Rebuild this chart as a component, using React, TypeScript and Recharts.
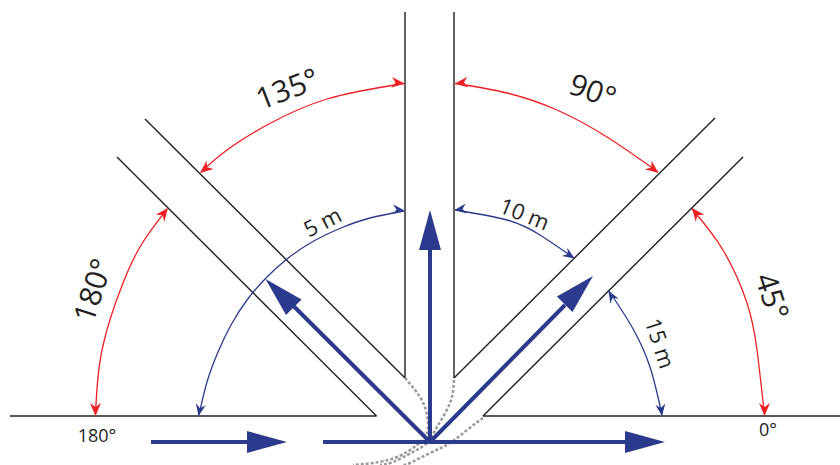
import React from "react";
import { ComposedChart, Line, Scatter, XAxis, YAxis } from "recharts";

type Pt = { x: number; y: number };
const P = (x: number, y: number): Pt => ({ x, y });

const INK = "#231f20";
const RED = "#ed2024";
const BLUE = "#2b3a8c";
const GRAY = "#9a9a9c";
const FONT = "'Open Sans', 'Noto Sans', sans-serif";

// Road edges
const roadEdges: Pt[][] = [
  [P(10, 416), P(376.5, 416)],
  [P(483, 416), P(840, 416)],
  [P(405, 12), P(405, 378)],
  [P(454, 12), P(454, 378)],
  [P(145, 119), P(405, 378)],
  [P(117, 157), P(376.5, 416)],
  [P(715, 118), P(454, 378)],
  [P(743, 157), P(483, 416)],
];

// Dotted turning paths
const turnPaths: Pt[][] = [
  [P(405, 378), P(420, 397), P(427, 415), P(427, 433), P(417, 445), P(397, 457), P(373, 463), P(353, 465)],
  [P(454, 380), P(450, 403), P(437, 427), P(428, 442), P(413, 452), P(393, 462), P(380, 465)],
  [P(483, 418), P(467, 430), P(450, 443), P(430, 453), P(410, 463), P(403, 465)],
];

// Thick flow arrows, shaft only
const flowShafts: Pt[][] = [
  [P(151, 442), P(247, 442)],
  [P(323, 442), P(625, 442)],
  [P(430, 442), P(430, 246)],
  [P(430, 442), P(294, 306.5)],
  [P(430, 442), P(565, 305)],
];
const flowHeads = [
  { x: 287, y: 442, angle: 0 },
  { x: 665, y: 442, angle: 0 },
  { x: 430, y: 210, angle: -90 },
  { x: 265.5, y: 279, angle: -135 },
  { x: 593, y: 276, angle: -45 },
];

// Angle arcs (red)
const redArcs: Pt[][] = [
  [P(404, 83.5), P(327, 99), P(267, 125), P(227, 150), P(201, 172)],
  [P(455, 83.5), P(507, 93), P(557, 110), P(607, 137), P(658, 172)],
  [P(95.5, 415), P(102, 350), P(123, 283), P(143, 242), P(167, 209)],
  [P(764.5, 415), P(757, 350), P(747, 303), P(723, 250), P(692, 209)],
];
const redHeads = [
  { x: 404.5, y: 83.5, angle: 5 },
  { x: 200, y: 173, angle: 141 },
  { x: 455, y: 83.5, angle: 174 },
  { x: 658.5, y: 173, angle: 38 },
  { x: 95.5, y: 416, angle: 90 },
  { x: 168, y: 208, angle: -52 },
  { x: 764.5, y: 416, angle: 90 },
  { x: 692, y: 208, angle: -128 },
];

// Distance arcs (blue)
const blueArcs: Pt[][] = [
  [P(404, 211), P(370, 218), P(341, 228), P(312, 242), P(287, 259), P(266, 278), P(247, 300), P(231, 325), P(218, 352), P(207, 382), P(199, 415)],
  [P(455, 210), P(507, 220), P(540, 235), P(574, 258)],
  [P(609, 291), P(632, 327), P(650, 367), P(662, 415)],
];
const blueHeads = [
  { x: 404.5, y: 210.5, angle: 6 },
  { x: 198.5, y: 416, angle: 101 },
  { x: 454.5, y: 210, angle: 173 },
  { x: 574.5, y: 258.5, angle: 34 },
  { x: 608.5, y: 291, angle: -121 },
  { x: 662, y: 416, angle: 82 },
];

const labelTexts = ["135°", "90°", "180°", "45°", "5 m", "10 m", "15 m", "180°", "0°"];
const labelX = [287, 593, 92, 773, 322, 525, 661, 97, 768];
const labelY = [88, 90, 290, 296, 221, 213, 343, 435, 429];
const labelAngle = [-21, 20, -72, 72, -27, 22, 72, 0, 0];
const labelSize = [30, 30, 30, 30, 22, 22, 22, 18, 18];
const labels = labelTexts.map((text, i) => ({
  x: labelX[i], y: labelY[i], text, angle: labelAngle[i], size: labelSize[i],
}));

const bigHead = (p: any) => (
  <path
    d="M0 0 L-40 -11 L-40 11 Z"
    transform={`translate(${p.cx} ${p.cy}) rotate(${p.payload.angle})`}
    fill={BLUE}
  />
);
const smallHead = (color: string, l: number, w: number) => (p: any) => (
  <path
    d={`M0 0 L${-l} ${-w} L${-l + 4} 0 L${-l} ${w} Z`}
    transform={`translate(${p.cx} ${p.cy}) rotate(${p.payload.angle})`}
    fill={color}
  />
);
const labelShape = (p: any) => (
  <text
    x={p.cx}
    y={p.cy}
    transform={`rotate(${p.payload.angle} ${p.cx} ${p.cy})`}
    textAnchor="middle"
    dominantBaseline="central"
    fontFamily={FONT}
    fontSize={p.payload.size}
    fill={INK}
  >
    {p.payload.text}
  </text>
);

const line = (pts: Pt[], key: string, stroke: string, width: number, curved: boolean, dash?: string) => (
  <Line
    key={key}
    data={pts}
    dataKey="y"
    type={curved ? "natural" : "linear"}
    stroke={stroke}
    strokeWidth={width}
    strokeDasharray={dash}
    dot={false}
    activeDot={false}
    legendType="none"
    isAnimationActive={false}
  />
);

export default function App() {
  return (
    <div style={{ position: "absolute", left: 0, top: 0, width: 840, height: 465, background: "#fff" }}>
      <ComposedChart width={840} height={465} margin={{ top: 0, right: 0, bottom: 0, left: 0 }}>
        <XAxis dataKey="x" type="number" domain={[0, 840]} hide allowDataOverflow />
        <YAxis dataKey="y" type="number" domain={[0, 465]} reversed hide allowDataOverflow />
        {roadEdges.map((p, i) => line(p, `edge${i}`, INK, 1.4, false))}
        {turnPaths.map((p, i) => line(p, `turn${i}`, GRAY, 2.5, true, "3 2"))}
        {flowShafts.map((p, i) => line(p, `flow${i}`, BLUE, 4, false))}
        {redArcs.map((p, i) => line(p, `red${i}`, RED, 1.3, true))}
        {blueArcs.map((p, i) => line(p, `blue${i}`, BLUE, 1.3, true))}
        <Scatter data={flowHeads} shape={bigHead} isAnimationActive={false} />
        <Scatter data={redHeads} shape={smallHead(RED, 13, 5.5)} isAnimationActive={false} />
        <Scatter data={blueHeads} shape={smallHead(BLUE, 12, 5)} isAnimationActive={false} />
        <Scatter data={labels} shape={labelShape} isAnimationActive={false} />
      </ComposedChart>
    </div>
  );
}
